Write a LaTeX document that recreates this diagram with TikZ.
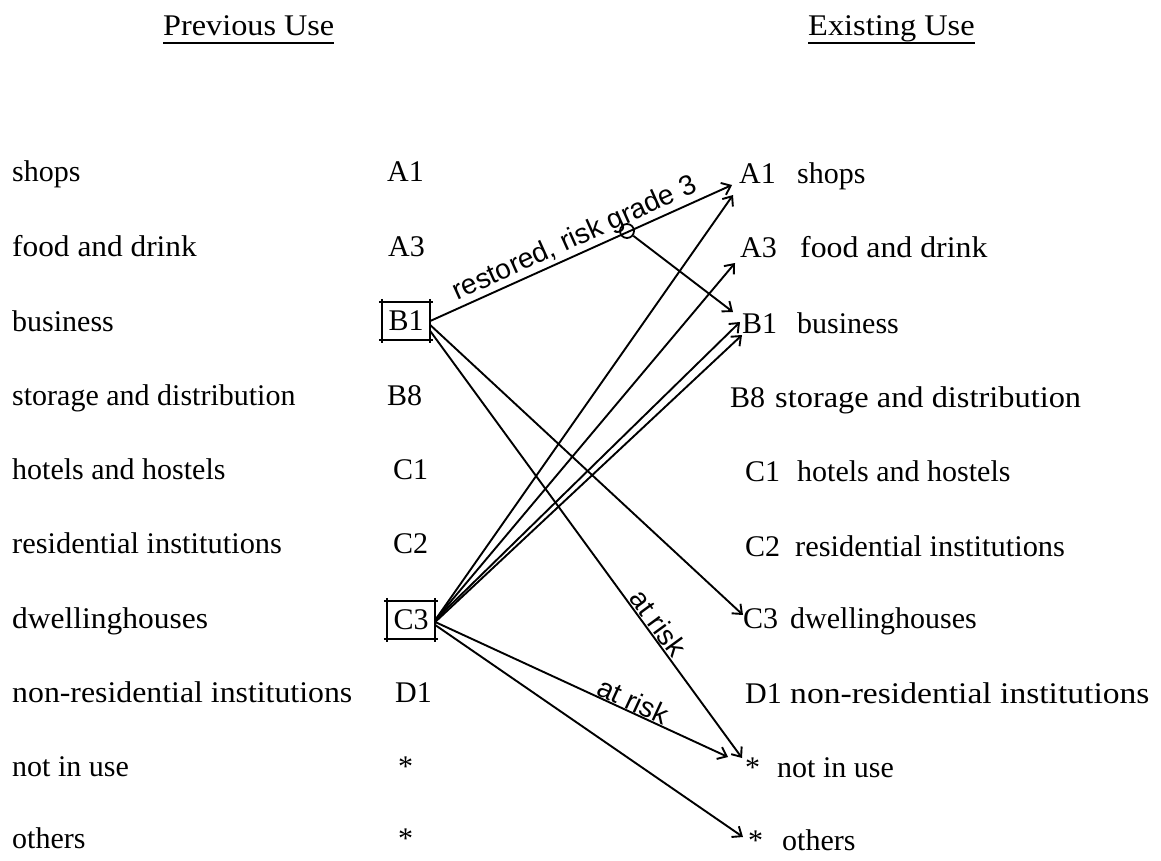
\documentclass[tikz,border=0pt]{standalone}
\usepackage{fontspec}
\setmainfont{Liberation Serif}
\newfontfamily\handfont{Liberation Sans}
\usetikzlibrary{arrows.meta}
\begin{document}
\begin{tikzpicture}[x=1pt,y=-1pt,
  txt/.style={anchor=base west, inner sep=0pt, font=\fontsize{30}{36}\selectfont},
  ttl/.style={anchor=base west, inner sep=0pt, font=\fontsize{30}{36}\selectfont},
  hand/.style={font=\handfont\fontsize{28}{32}\selectfont, inner sep=1pt, sloped},
  conn/.style={line width=1.9pt, -{Straight Barb[length=8pt,width=13pt]}},
  codebox/.style={inner sep=0pt, minimum width=48pt, minimum height=38pt, font=\fontsize{30}{36}\selectfont},
  boxline/.style={line width=2.2pt, shorten <=-3pt, shorten >=-3pt},
  uline/.style={line width=2.2pt}
]
\useasboundingbox (0,0) rectangle (1161,861);
% titles
\node[ttl] (tPrev) at (163,36) {\scalebox{1.075}[1]{Previous Use}};
\node[ttl] (tExist) at (808,36) {\scalebox{1.08}[1]{Existing Use}};
\coordinate (u1a) at (163,43);
\coordinate (u2a) at (808,43);
\draw[uline] (u1a) -- (u1a -| tPrev.east);
\draw[uline] (u2a) -- (u2a -| tExist.east);
% left names
\node[txt] (lnA1) at (12,182) {shops};
\node[txt] (lnA3) at (12,256) {\scalebox{1.045}[1]{food and drink}};
\node[txt] (lnB1) at (12,331) {business};
\node[txt] (lnB8) at (12,405) {storage and distribution};
\node[txt] (lnC1) at (12,479) {hotels and hostels};
\node[txt] (lnC2) at (12,553) {\scalebox{1.015}[1]{residential institutions}};
\node[txt] (lnC3) at (12,628) {\scalebox{1.05}[1]{dwellinghouses}};
\node[txt] (lnD1) at (12,702) {\scalebox{1.06}[1]{non-residential institutions}};
\node[txt] (lnN) at (12,776) {not in use};
\node[txt] (lnO) at (12,848) {others};
% left codes
\node[txt] (lA1) at (387,182) {A1};
\node[txt] (lA3) at (388,256) {A3};
\node[codebox] (lB1) at (406,321) {B1};
\node[txt] (lB8) at (387,405) {B8};
\node[txt] (lC1) at (393,479) {C1};
\node[txt] (lC2) at (393,553) {C2};
\node[codebox] (lC3) at (411,620) {C3};
\node[txt] (lD1) at (395,702) {D1};
\node[txt] (lN) at (398,776) {*};
\node[txt] (lO) at (398,848) {*};
% boxes
\foreach \b in {lB1,lC3}{
  \draw[boxline] (\b.north west) -- (\b.north east);
  \draw[boxline] (\b.south west) -- (\b.south east);
  \draw[boxline] (\b.north west) -- (\b.south west);
  \draw[boxline] (\b.north east) -- (\b.south east);
}
% right codes and names
\node[txt] (rA1) at (739,183) {A1};
\node[txt] (rnA1) at (797,183) {shops};
\node[txt] (rA3) at (740,257) {A3};
\node[txt] (rnA3) at (800,257) {\scalebox{1.06}[1]{food and drink}};
\node[txt] (rB1) at (742,333) {B1};
\node[txt] (rnB1) at (797,333) {business};
\node[txt] (rB8) at (730,407) {B8};
\node[txt] (rnB8) at (775,407) {\scalebox{1.08}[1]{storage and distribution}};
\node[txt] (rC1) at (745,481) {C1};
\node[txt] (rnC1) at (797,481) {hotels and hostels};
\node[txt] (rC2) at (745,556) {C2};
\node[txt] (rnC2) at (795,556) {\scalebox{1.015}[1]{residential institutions}};
\node[txt] (rC3) at (743,628) {C3};
\node[txt] (rnC3) at (790,628) {dwellinghouses};
\node[txt] (rD1) at (745,703) {D1};
\node[txt] (rnD1) at (790,703) {\scalebox{1.12}[1]{non-residential institutions}};
\node[txt] (rN) at (745,777) {*};
\node[txt] (rnN) at (777,777) {not in use};
\node[txt] (rO) at (748,850) {*};
\node[txt] (rnO) at (782,850) {others};
% arrow tips
\coordinate (tA1a) at (732,185);
\coordinate (tA1b) at (733,195);
\coordinate (tA3) at (735,263);
\coordinate (tB1a) at (733,312);
\coordinate (tB1b) at (740,322);
\coordinate (tB1c) at (742,335);
\coordinate (tC3) at (743,615);
\coordinate (tNa) at (742,758);
\coordinate (tNb) at (728,757);
\coordinate (tO) at (743,837);
% connectors
\draw[conn] (lB1.east) -- node[hand, above, pos=0.5] (lbl1) {restored, risk grade 3} (tA1a);
\node[circle, draw, line width=1.8pt, minimum size=14pt, inner sep=0pt] (knot) at (627,231) {};
\draw[conn] (knot) -- (tB1a);
\draw[conn] (lC3.east) -- (tA1b);
\draw[conn] (lC3.east) -- (tA3);
\draw[conn] (lC3.east) -- (tB1b);
\draw[conn] ([yshift=-2pt]lC3.east) -- (tB1c);
\draw[conn] ([yshift=-4pt]lB1.east) -- (tC3);
\draw[conn] ([yshift=-10pt]lB1.east) -- node[hand, above, pos=0.7] (lbl2) {at risk} (tNa);
\draw[conn] ([yshift=-2pt]lC3.east) -- node[hand, above, pos=0.66, inner sep=0pt] (lbl3) {at risk} (tNb);
\draw[conn] ([yshift=-5pt]lC3.east) -- (tO);
\end{tikzpicture}
\end{document}
